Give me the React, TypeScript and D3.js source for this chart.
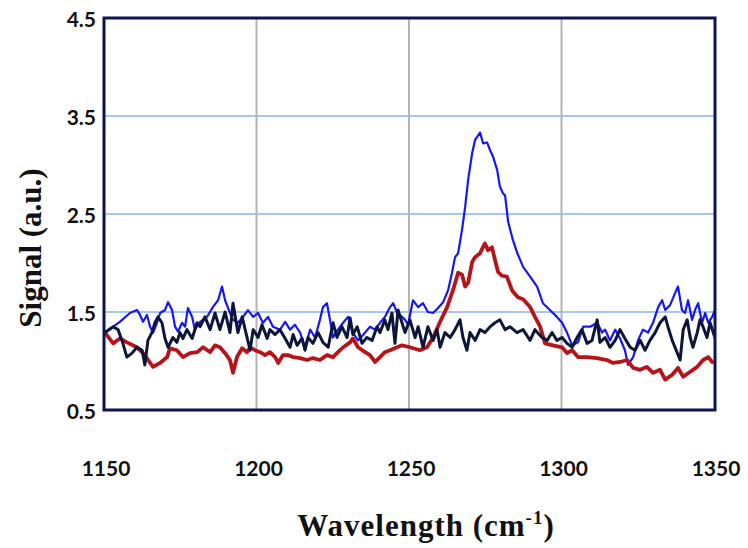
import React from "react";
import * as d3 from "d3";

// ---- Data ----
const xTicks = [1150, 1200, 1250, 1300, 1350];
const yTicks = [0.5, 1.5, 2.5, 3.5, 4.5];
const xGrid = [1200, 1250, 1300];
const yGrid = [1.5, 2.5, 3.5];

const blueW = [1150.3,1153.0,1155.2,1158.5,1160.8,1161.8,1162.8,1164.1,1165.1,1166.1,1167.4,1168.4,1170.0,1171.0,1172.3,1173.3,1174.3,1175.6,1176.6,1177.5,1178.9,1179.8,1181.5,1183.8,1185.7,1187.4,1188.7,1189.7,1191.3,1192.3,1193.9,1195.6,1197.2,1198.9,1200.5,1202.1,1203.8,1205.4,1207.7,1209.4,1211.0,1212.6,1214.3,1215.9,1217.6,1219.2,1220.8,1221.8,1223.1,1224.1,1225.1,1226.7,1228.4,1230.0,1231.6,1233.3,1235.6,1237.2,1238.9,1240.5,1242.1,1243.8,1244.8,1246.1,1247.7,1248.7,1249.7,1251.3,1253.0,1254.6,1256.2,1257.9,1259.5,1261.2,1262.8,1264.1,1265.1,1266.1,1267.4,1268.4,1269.4,1270.7,1271.7,1273.3,1274.3,1275.6,1276.6,1277.6,1278.9,1279.8,1280.8,1281.5,1282.5,1284.1,1285.4,1287.4,1289.7,1292.0,1293.9,1296.2,1298.5,1300.2,1301.8,1303.5,1305.4,1307.1,1309.4,1311.7,1313.3,1314.3,1315.9,1317.6,1319.2,1320.8,1321.8,1323.5,1325.1,1326.7,1328.4,1330.0,1331.7,1333.0,1334.0,1335.6,1337.2,1338.2,1339.5,1340.5,1341.5,1342.8,1343.8,1344.8,1346.1,1347.1,1348.1,1349.4,1350.3];
const blueV = [1.29,1.35,1.40,1.49,1.52,1.47,1.40,1.47,1.35,1.29,1.39,1.49,1.52,1.60,1.52,1.35,1.30,1.39,1.35,1.54,1.45,1.32,1.40,1.45,1.55,1.62,1.76,1.62,1.49,1.42,1.39,1.45,1.52,1.45,1.49,1.39,1.45,1.35,1.32,1.40,1.32,1.37,1.29,1.14,1.32,1.24,1.42,1.55,1.59,1.42,1.24,1.32,1.39,1.45,1.29,1.21,1.29,1.35,1.32,1.39,1.45,1.55,1.59,1.49,1.45,1.42,1.37,1.62,1.55,1.59,1.50,1.49,1.54,1.60,1.72,1.90,2.06,2.10,2.34,2.57,2.85,3.12,3.26,3.33,3.22,3.23,3.15,3.08,2.95,2.78,2.71,2.69,2.42,2.23,2.11,1.96,1.86,1.76,1.59,1.52,1.45,1.39,1.29,1.16,1.19,1.35,1.35,1.39,1.29,1.32,1.21,1.32,1.23,1.11,0.96,1.04,1.21,1.32,1.29,1.39,1.55,1.62,1.52,1.57,1.69,1.76,1.52,1.49,1.62,1.42,1.52,1.59,1.39,1.49,1.39,1.45,1.52];

const redW = [1150.3,1153.0,1155.2,1157.5,1160.8,1162.8,1166.1,1168.4,1170.7,1171.6,1173.9,1175.9,1178.2,1180.5,1182.5,1184.8,1186.4,1188.0,1189.7,1191.3,1192.3,1193.6,1195.3,1196.9,1197.9,1199.5,1201.2,1202.8,1204.4,1206.1,1207.1,1208.7,1210.3,1212.0,1214.3,1216.6,1218.5,1220.8,1223.1,1225.1,1226.7,1228.4,1230.7,1231.6,1233.3,1235.6,1237.2,1238.9,1240.5,1242.1,1243.8,1246.1,1247.7,1250.3,1253.6,1255.9,1257.9,1260.2,1262.5,1264.4,1266.1,1267.4,1268.4,1269.4,1270.7,1271.7,1273.3,1274.9,1275.9,1277.2,1278.2,1279.2,1280.5,1282.1,1283.8,1285.7,1287.4,1289.7,1291.3,1293.0,1294.6,1297.2,1300.2,1301.8,1303.5,1305.4,1308.4,1311.7,1314.9,1316.9,1319.2,1321.5,1323.5,1325.8,1328.0,1330.0,1332.3,1334.0,1336.3,1338.2,1339.9,1342.2,1344.5,1346.4,1348.1,1349.4];
const redV = [1.29,1.18,1.23,1.19,1.14,1.08,0.94,0.98,1.04,1.13,1.11,1.04,1.08,1.09,1.14,1.09,1.16,1.14,1.08,1.01,0.88,1.04,1.13,1.09,1.14,1.11,1.09,1.06,1.09,1.04,0.98,1.06,1.06,1.04,1.03,1.01,1.03,1.01,1.06,1.04,1.09,1.14,1.19,1.23,1.14,1.09,1.06,0.99,1.04,1.09,1.11,1.14,1.16,1.14,1.11,1.14,1.24,1.40,1.55,1.72,1.90,1.88,1.76,1.80,2.01,2.06,2.10,2.20,2.13,2.16,2.03,1.91,1.87,1.86,1.72,1.65,1.63,1.55,1.45,1.35,1.18,1.16,1.14,1.08,1.11,1.04,1.04,1.03,1.01,0.98,0.99,1.01,0.93,0.91,0.94,0.88,0.91,0.81,0.86,0.93,0.84,0.89,0.94,1.01,1.04,0.99];

const navyW = [1150.3,1153.0,1154.6,1155.9,1157.5,1159.2,1160.8,1162.5,1163.4,1164.4,1165.7,1166.7,1167.7,1169.0,1170.0,1171.0,1172.6,1173.9,1174.9,1175.9,1177.2,1178.9,1180.5,1181.5,1183.1,1184.8,1186.4,1188.0,1189.7,1191.3,1192.3,1193.9,1195.3,1196.9,1197.9,1198.9,1200.5,1201.8,1203.5,1204.4,1206.1,1207.7,1209.4,1211.0,1212.0,1213.3,1214.9,1215.9,1216.9,1218.5,1220.2,1221.8,1223.5,1225.1,1226.4,1228.0,1229.7,1230.7,1231.6,1233.0,1234.6,1236.2,1237.9,1239.5,1240.5,1242.1,1243.1,1244.4,1245.4,1246.4,1247.7,1248.7,1250.3,1252.0,1253.0,1254.6,1256.2,1257.9,1259.2,1260.2,1261.8,1263.5,1265.1,1266.7,1267.7,1269.0,1270.0,1271.7,1273.3,1274.9,1276.6,1278.2,1279.8,1281.5,1283.1,1285.4,1287.4,1289.7,1291.3,1293.6,1295.3,1296.9,1298.5,1300.2,1301.8,1303.5,1305.1,1306.7,1308.4,1310.0,1311.7,1312.6,1314.3,1315.9,1317.6,1319.2,1320.8,1322.5,1324.1,1325.8,1327.4,1329.0,1330.7,1332.3,1334.0,1334.9,1336.3,1337.2,1338.9,1339.9,1341.2,1342.2,1343.1,1344.5,1345.4,1346.4,1347.7,1348.7,1350.3];
const navyV = [1.29,1.35,1.32,1.21,1.04,1.08,1.14,1.11,0.96,1.21,1.29,1.39,1.45,1.39,1.23,1.14,1.24,1.19,1.29,1.23,1.32,1.23,1.39,1.35,1.45,1.32,1.49,1.32,1.50,1.29,1.59,1.29,1.45,1.24,1.11,1.32,1.24,1.37,1.23,1.32,1.27,1.32,1.23,1.14,1.27,1.16,1.23,1.11,1.24,1.18,1.29,1.19,1.14,1.39,1.24,1.35,1.24,1.44,1.27,1.35,1.18,1.24,1.21,1.35,1.29,1.42,1.32,1.49,1.18,1.52,1.39,1.29,1.42,1.24,1.35,1.14,1.35,1.21,1.32,1.14,1.29,1.24,1.32,1.42,1.24,1.11,1.29,1.21,1.32,1.29,1.35,1.39,1.42,1.32,1.35,1.29,1.32,1.21,1.32,1.24,1.21,1.29,1.21,1.24,1.18,1.14,1.24,1.32,1.18,1.21,1.42,1.19,1.24,1.14,1.21,1.32,1.23,1.14,1.11,1.21,1.11,1.21,1.29,1.39,1.45,1.35,1.21,1.14,1.01,1.32,1.42,1.24,1.14,1.29,1.42,1.35,1.24,1.39,1.24];

const seriesList = [
  { name: "blue", w: blueW, v: blueV, color: "#1717f5", width: 2.2 },
  { name: "red", w: redW, v: redV, color: "#b5141a", width: 3.8 },
  { name: "navy", w: navyW, v: navyV, color: "#0b1638", width: 3.0 },
];

const W = 748;
const H = 548;
const plot = { left: 104, right: 714, top: 18, bottom: 410 };

export default function App() {
  const x = d3.scaleLinear().domain([1150, 1350]).range([plot.left, plot.right]);
  const y = d3.scaleLinear().domain([0.5, 4.5]).range([plot.bottom, plot.top]);

  const tickFont = "Lato, 'Open Sans', sans-serif";
  const titleFont = "'Liberation Serif', 'DejaVu Serif', serif";

  return (
    <svg
      width={W}
      height={H}
      viewBox={`0 0 ${W} ${H}`}
      style={{ position: "fixed", left: 0, top: 0, background: "#fff" }}
    >
      <rect x={0} y={0} width={W} height={H} fill="#fff" />
      <defs>
        <clipPath id="plotClip">
          <rect x={plot.left} y={plot.top} width={plot.right - plot.left + 1} height={plot.bottom - plot.top} />
        </clipPath>
      </defs>
      {/* gridlines */}
      {yGrid.map((g) => (
        <line key={"yg" + g} x1={plot.left} x2={plot.right} y1={y(g)} y2={y(g)} stroke="#86b5ee" strokeWidth={1.6} />
      ))}
      {xGrid.map((g) => (
        <line key={"xg" + g} x1={x(g)} x2={x(g)} y1={plot.top} y2={plot.bottom} stroke="#b4b4b4" strokeWidth={2} />
      ))}
      {/* series */}
      <g clipPath="url(#plotClip)">
        {seriesList.map((s) => {
          const pts: [number, number][] = s.w.map((w, i) => [w, s.v[i]]);
          const gen = d3
            .line<[number, number]>()
            .x((d) => x(d[0]))
            .y((d) => y(d[1]))
            .curve(d3.curveLinear);
          return (
            <path
              key={s.name}
              d={gen(pts) || ""}
              fill="none"
              stroke={s.color}
              strokeWidth={s.width}
              strokeLinejoin="round"
              strokeLinecap="round"
            />
          );
        })}
      </g>
      {/* frame */}
      <rect
        x={plot.left}
        y={plot.top}
        width={plot.right - plot.left + 1}
        height={plot.bottom - plot.top}
        fill="none"
        stroke="#0c1550"
        strokeWidth={3}
      />
      {/* y tick labels */}
      {yTicks.map((t) => (
        <text
          key={"yt" + t}
          x={96}
          y={y(t)}
          textAnchor="end"
          dominantBaseline="central"
          fontFamily={tickFont}
          fontWeight={700}
          fontSize={21}
          fill="#111"
        >
          {t.toFixed(1)}
        </text>
      ))}
      {/* x tick labels */}
      {xTicks.map((t) => (
        <text
          key={"xt" + t}
          x={x(t) + 2}
          y={467}
          textAnchor="middle"
          dominantBaseline="central"
          fontFamily={tickFont}
          fontWeight={700}
          fontSize={21}
          fill="#111"
        >
          {t}
        </text>
      ))}
      {/* axis titles */}
      <text
        transform={`translate(41, 248) rotate(-90)`}
        textAnchor="middle"
        fontFamily={titleFont}
        fontWeight={700}
        fontSize={31}
        fill="#111"
      >
        Signal (a.u.)
      </text>
      <text
        x={426}
        y={536}
        textAnchor="middle"
        fontFamily={titleFont}
        fontWeight={700}
        fontSize={31}
        letterSpacing={1}
        fill="#111"
      >
        Wavelength (cm
        <tspan fontSize={19} dy={-12}>-1</tspan>
        <tspan dy={12}>)</tspan>
      </text>
    </svg>
  );
}
